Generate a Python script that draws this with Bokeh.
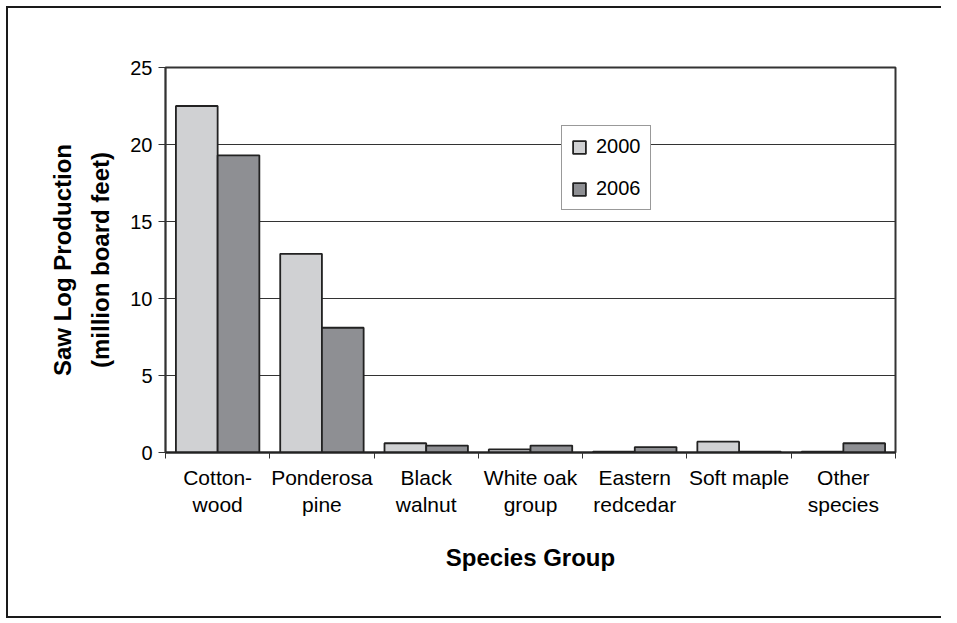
import numpy as np
from bokeh.plotting import figure
from bokeh.models import (ColumnDataSource, Range1d, FixedTicker, Legend, LegendItem)
from bokeh.transform import dodge
from bokeh.embed import file_html
from bokeh.resources import INLINE

categories = ["Cotton-\nwood", "Ponderosa\npine", "Black\nwalnut", "White oak\ngroup",
              "Eastern\nredcedar", "Soft maple", "Other\nspecies"]
v2000 = [22.5, 12.9, 0.6, 0.2, 0.05, 0.7, 0.05]
v2006 = [19.3, 8.1, 0.45, 0.45, 0.35, 0.05, 0.6]
years = ["2000", "2006"]
y_ticks = [0, 5, 10, 15, 20, 25]

pos = np.arange(len(categories)) + 0.5
src = ColumnDataSource(dict(pos=pos, v2000=v2000, v2006=v2006))

FONT = "Liberation Sans"

p = figure(width=935, height=612, output_backend="svg", toolbar_location=None,
           x_range=Range1d(0, len(categories)), y_range=Range1d(0, 25),
           min_border_left=157, min_border_top=59, min_border_right=48, min_border_bottom=168,
           styles={"margin-left": "6px", "margin-top": "6px",
                   "border-left": "2px solid #1a1a1a", "border-top": "2px solid #1a1a1a",
                   "border-bottom": "2px solid #1a1a1a", "border-right": "none"})

r1 = p.vbar(x=dodge("pos", -0.2, range=p.x_range), top="v2000", width=0.4, bottom=0,
            source=src, fill_color="#d0d1d3", line_color="#222222", line_width=1.8)
r2 = p.vbar(x=dodge("pos", 0.2, range=p.x_range), top="v2006", width=0.4, bottom=0,
            source=src, fill_color="#8e8f93", line_color="#222222", line_width=1.8)

# axes
xa = p.xaxis[0]
xa.ticker = FixedTicker(ticks=list(pos), minor_ticks=list(range(len(categories) + 1)))
xa.major_label_overrides = {float(t): c for t, c in zip(pos, categories)}
xa.major_tick_line_color = None
xa.major_tick_in = 0
xa.major_tick_out = 0
xa.minor_tick_in = 0
xa.minor_tick_out = 6
xa.minor_tick_line_color = "#333333"
xa.minor_tick_line_width = 1
xa.axis_line_color = "#222222"
xa.axis_line_width = 2
xa.major_label_text_font = FONT
xa.major_label_text_font_size = "21px"
xa.major_label_text_color = "black"
xa.major_label_standoff = 7
xa.axis_label = "Species Group"
xa.axis_label_text_font = FONT
xa.axis_label_text_font_size = "24px"
xa.axis_label_text_font_style = "bold"
xa.axis_label_text_color = "black"
xa.axis_label_standoff = 25

ya = p.yaxis[0]
ya.ticker = FixedTicker(ticks=y_ticks, minor_ticks=[])
ya.major_tick_in = 0
ya.major_tick_out = 7
ya.major_tick_line_color = "#333333"
ya.axis_line_color = "#333333"
ya.axis_line_width = 1.5
ya.major_label_text_font = FONT
ya.major_label_text_font_size = "20px"
ya.major_label_text_color = "black"
ya.major_label_standoff = 6
ya.axis_label = "Saw Log Production\n(million board feet)"
ya.axis_label_text_font = FONT
ya.axis_label_text_font_size = "24px"
ya.axis_label_text_font_style = "bold"
ya.axis_label_text_color = "black"
ya.axis_label_text_line_height = 1.4
ya.axis_label_standoff = 13

p.xgrid.grid_line_color = None
p.ygrid.ticker = FixedTicker(ticks=y_ticks)
p.ygrid.grid_line_color = "#333333"
p.ygrid.grid_line_width = 1

p.outline_line_color = "#333333"
p.outline_line_width = 2
p.background_fill_color = "white"
p.border_fill_color = "white"

legend = Legend(items=[LegendItem(label=years[0], renderers=[r1]),
                       LegendItem(label=years[1], renderers=[r2])],
                location=(396, 242), orientation="vertical")
legend.label_text_font = FONT
legend.label_text_font_size = "20px"
legend.label_text_color = "black"
legend.glyph_width = 16
legend.glyph_height = 16
legend.label_standoff = 9
legend.padding = 9
legend.spacing = 19
legend.margin = 0
legend.border_line_color = "#333333"
legend.border_line_width = 1
legend.background_fill_color = "white"
legend.background_fill_alpha = 1
p.add_layout(legend, "center")

open("out.html", "w").write(file_html(p, INLINE))
